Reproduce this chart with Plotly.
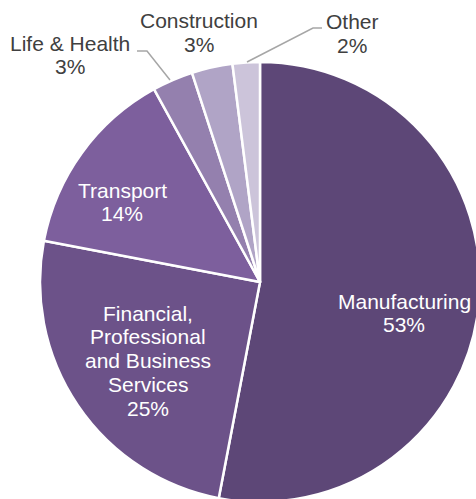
import plotly.graph_objects as go

categories = ["Manufacturing", "Financial, Professional and Business Services",
              "Transport", "Life & Health", "Construction", "Other"]
values = [53, 25, 14, 3, 3, 2]
label_lines = [
    ["Manufacturing", "53%"],
    ["Financial,", "Professional", "and Business", "Services", "25%"],
    ["Transport", "14%"],
    ["Life & Health", "3%"],
    ["Construction", "3%"],
    ["Other", "2%"],
]
colors = ["#5D4777", "#6C5289", "#7D5F9D", "#9480AE", "#B0A4C6", "#CCC4DA"]

CX, CY, R = 260, 282, 220
W, H = CX + R, CY + R  # pie slightly overflows the 476x499 view, as in the original
FONT = "Liberation Sans, Arial, sans-serif"
FS = 21
LINE_H = 23.8

# label anchor (center of first line) in pixels, text color
label_pos = [
    (404, 301, "white"),
    (148, 313, "white"),
    (122, 190, "white"),
    (70, 43, "#404040"),
    (199, 21, "#404040"),
    (352, 22, "#404040"),
]

fig = go.Figure(go.Pie(
    labels=categories,
    values=values,
    sort=False,
    direction="clockwise",
    rotation=0,
    textinfo="none",
    hoverinfo="label+percent",
    marker=dict(colors=colors, line=dict(color="white", width=2.5)),
    domain=dict(x=[(CX - R) / W, (CX + R) / W],
                y=[1 - (CY + R) / H, 1 - (CY - R) / H]),
    showlegend=False,
))

annotations = []
for lines, (px, py, col) in zip(label_lines, label_pos):
    for i, t in enumerate(lines):
        annotations.append(dict(
            text=t, x=px / W, y=1 - (py + i * LINE_H) / H,
            xref="paper", yref="paper", xanchor="center", yanchor="middle",
            showarrow=False, font=dict(family=FONT, size=FS, color=col),
        ))

# leader lines
leaders = [
    [(137, 51), (147, 51), (170, 80)],
    [(322, 28), (313, 28), (247, 62)],
]
shapes = []
for pts in leaders:
    path = "M " + " L ".join(f"{x / W},{1 - y / H}" for x, y in pts)
    shapes.append(dict(type="path", path=path, xref="paper", yref="paper",
                       line=dict(color="#A6A6A6", width=1.5)))

fig.update_layout(
    width=W, height=H,
    margin=dict(l=0, r=0, t=0, b=0),
    paper_bgcolor="white", plot_bgcolor="white",
    annotations=annotations, shapes=shapes,
    font=dict(family=FONT),
)

fig.write_html(
    "out.html",
    config={"displayModeBar": False},
    post_script="document.body.style.margin='0';document.body.style.overflow='hidden';"
                "document.documentElement.style.overflow='hidden';",
)
